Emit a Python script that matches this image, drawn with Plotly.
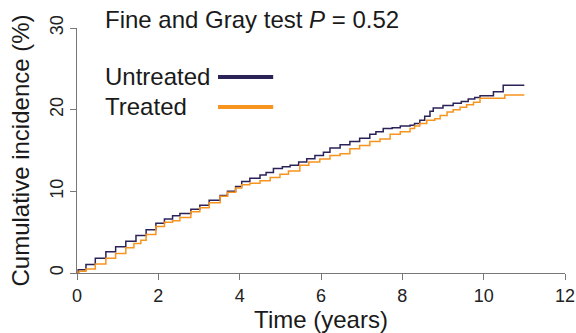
import plotly.graph_objects as go

# 누적 발생률 데이터
t_untreated = [0, 0.03, 0.22, 0.45, 0.71, 0.95, 1.2, 1.45, 1.7, 1.94,
               2.15, 2.35, 2.53, 2.8, 3.02, 3.25, 3.52, 3.7, 3.9, 4.05,
               4.25, 4.5, 4.65, 4.83, 5.05, 5.24, 5.45, 5.65, 5.85, 6.06,
               6.22, 6.47, 6.71, 6.95, 7.2, 7.35, 7.53, 7.75, 7.95, 8.19,
               8.3, 8.43, 8.55, 8.68, 8.76, 9.0, 9.25, 9.45, 9.62, 9.78,
               9.91, 10.24, 10.48, 11.0]
ci_untreated = [0, 0.4, 1.05, 1.8, 2.6, 3.2, 3.9, 4.6, 5.3, 6.1,
                6.6, 7.0, 7.3, 7.8, 8.3, 8.9, 9.5, 10.0, 10.6, 11.2,
                11.6, 12.0, 12.3, 12.8, 13.0, 13.2, 13.6, 14.0, 14.4, 14.8,
                15.3, 15.7, 16.1, 16.5, 17.0, 17.3, 17.7, 17.8, 18.0, 18.1,
                18.3, 18.7, 19.2, 19.8, 20.2, 20.5, 20.8, 21.0, 21.3, 21.5,
                21.7, 22.2, 23.0, 23.0]

t_treated = [0, 0.05, 0.22, 0.45, 0.71, 0.95, 1.2, 1.4, 1.57, 1.7,
             1.94, 2.15, 2.35, 2.53, 2.8, 3.02, 3.25, 3.52, 3.7, 3.9,
             4.05, 4.25, 4.5, 4.75, 4.99, 5.2, 5.48, 5.7, 5.97, 6.22,
             6.47, 6.71, 6.95, 7.2, 7.45, 7.7, 7.95, 8.19, 8.3, 8.43,
             8.6, 8.8, 8.93, 9.1, 9.25, 9.42, 9.58, 9.75, 9.91, 10.52,
             11.0]
ci_treated = [0, 0.2, 0.5, 1.1, 1.8, 2.4, 3.1, 3.6, 4.0, 4.7,
              5.7, 6.2, 6.4, 6.8, 7.5, 8.0, 8.6, 9.4, 9.9, 10.4,
              10.8, 11.0, 11.3, 11.7, 12.1, 12.5, 13.2, 13.6, 13.95, 14.4,
              14.6, 15.2, 15.6, 16.1, 16.4, 17.0, 17.3, 17.7, 18.0, 18.3,
              18.7, 18.9, 19.3, 19.7, 20.0, 20.3, 20.6, 20.9, 21.4, 21.8,
              21.8]

x_ticks = [0, 2, 4, 6, 8, 10, 12]
y_ticks = [0, 10, 20, 30]

navy = "#2b2358"
orange = "#f7941e"
font = "Liberation Sans, Arial, sans-serif"

fig = go.Figure()
fig.add_trace(go.Scatter(x=t_untreated, y=ci_untreated, mode="lines",
                         line=dict(color=navy, width=1.5, shape="hv"),
                         name="Untreated"))
fig.add_trace(go.Scatter(x=t_treated, y=ci_treated, mode="lines",
                         line=dict(color=orange, width=1.5, shape="hv"),
                         name="Treated"))

# 제목 / 범례는 annotation 으로
fig.add_annotation(text="Fine and Gray test <i>P</i> = 0.52", xref="paper", yref="paper",
                   x=0.053, y=1.033, xanchor="left", yanchor="middle", showarrow=False,
                   font=dict(size=24, color="#1a1a1a", family=font))
for label, color, yy in [("Untreated", navy, 0.80), ("Treated", orange, 0.678)]:
    fig.add_annotation(text=label, xref="paper", yref="paper", x=0.053, y=yy,
                       xanchor="left", yanchor="middle", showarrow=False,
                       font=dict(size=24, color="#1a1a1a", family=font))
    fig.add_shape(type="line", xref="paper", yref="paper", x0=0.289, x1=0.402,
                  y0=yy, y1=yy, line=dict(color=color, width=4))

axis_style = dict(showline=True, linecolor="#777", linewidth=1, ticks="outside",
                  ticklen=6, tickcolor="#777", showgrid=False, zeroline=False,
                  automargin=False,
                  tickfont=dict(size=18, color="#222", family=font),
                  title_font=dict(size=24, color="#1a1a1a", family=font))

fig.update_layout(
    width=576, height=333,
    margin=dict(l=77, r=11, t=28, b=60),
    plot_bgcolor="white", paper_bgcolor="white",
    showlegend=False,
    xaxis=dict(range=[0, 12], tickvals=x_ticks, title=dict(text="Time (years)", standoff=6),
               **axis_style),
    yaxis=dict(range=[0, 30], tickvals=y_ticks, tickangle=-90,
               title=dict(text="Cumulative incidence (%)", standoff=10), **axis_style),
)

# body 기본 여백(8px) 제거, 모드바 숨김
fig.write_html("out.html", config={"displayModeBar": False},
               post_script="document.body.style.margin='0px';")
